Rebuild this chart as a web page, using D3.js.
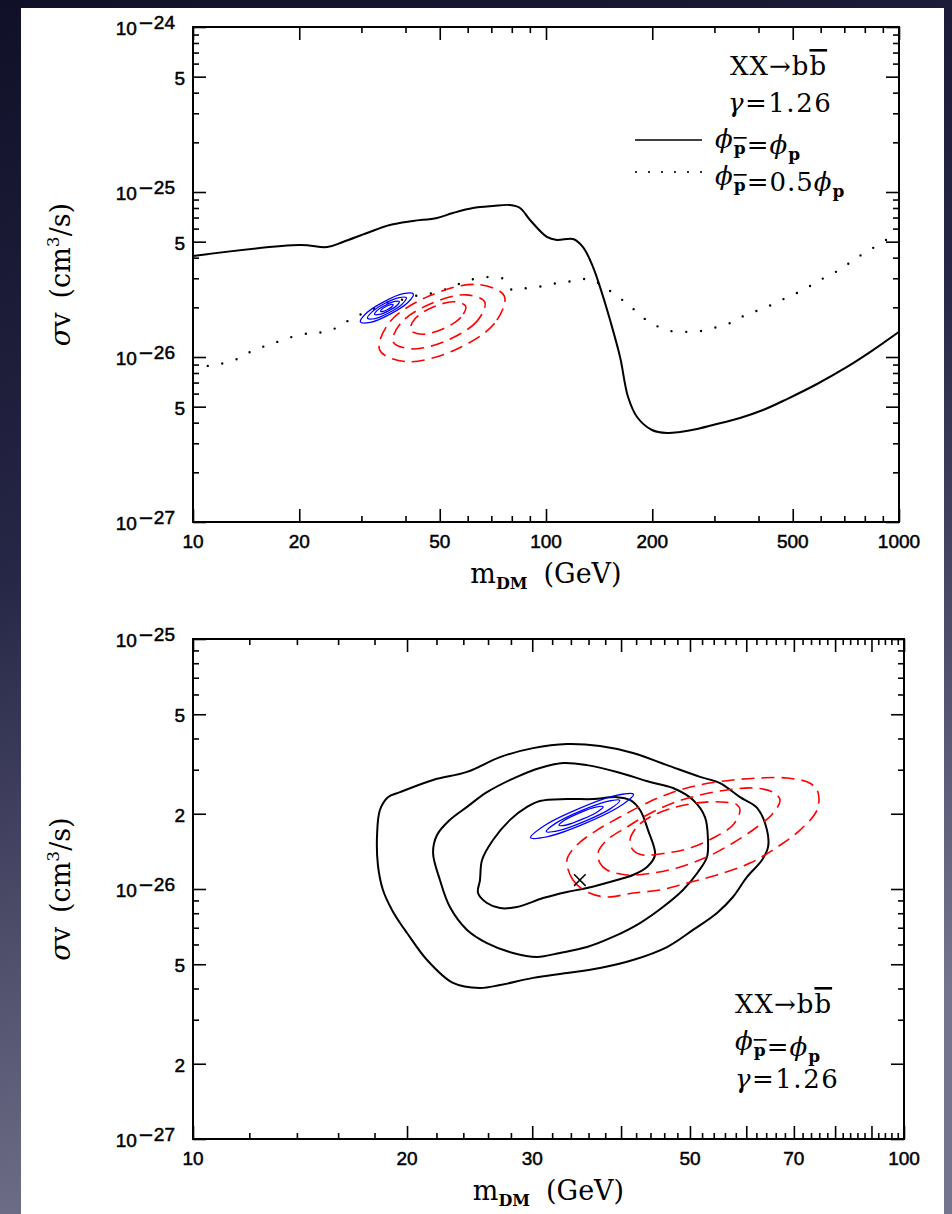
<!DOCTYPE html>
<html>
<head>
<meta charset="utf-8">
<script src="https://cdn.jsdelivr.net/npm/d3@7"></script>
<style>
  html, body { margin: 0; padding: 0; background: #161630; }
  svg { display: block; }
  .tick-lbl { font-family: "Liberation Sans", Arial, sans-serif; font-size: 19px; fill: #000; stroke: #000; stroke-width: 0.5px; }
  .serif { font-family: "DejaVu Serif", serif; fill: #000; }
</style>
</head>
<body>
<svg id="fig" width="952" height="1214"></svg>
<script>
// σv values in the arrays below are given in units of 1e-26 cm^3/s
const UNIT = 1e-26;

// ---------- upper panel: limits for XX→bb̄, γ = 1.26 ----------
const limitEqual = [ // φ_p̄ = φ_p
  [10,4.10],[20.1,4.77],[24.0,4.64],[26.6,4.98],[31.1,5.64],[36.1,6.31],[42.0,6.67],
  [49.1,6.96],[54.5,7.46],[62.1,8.00],[70.8,8.23],[79.1,8.34],[84.4,8.00],[90.1,6.77],
  [100.6,5.34],[107.4,5.12],[119.3,5.19],[127.3,4.64],[135.9,3.51],[142.2,2.66],
  [151.8,1.68],[162.1,1.00],[170.8,0.572],[181.1,0.433],[199.7,0.361],[220.2,0.346],
  [239.7,0.351],[267.8,0.366],[297.2,0.387],[354.5,0.427],[411.9,0.477],[481.6,0.556],
  [585.9,0.686],[712.4,0.870],[843.9,1.10],[1000,1.42]
];
const limitHalf = [ // φ_p̄ = 0.5 φ_p
  [10,0.870],[10.96,0.882],[11.93,0.907],[13.33,0.972],[14.5,1.072],[16.0,1.166],
  [17.64,1.25],[19.45,1.34],[21.73,1.40],[23.66,1.42],[26.09,1.54],[28.58,1.75],
  [31.31,1.87],[34.53,2.10],[38.3,2.20],[42.3,2.34],[46.6,2.41],[51.4,2.55],[56.7,2.77],
  [62.5,2.97],[68.9,3.05],[76.0,2.97],[80.1,2.55],[88.4,2.62],[98.1,2.69],[108.1,2.81],
  [120.1,2.89],[133.3,2.97],[145.0,2.69],[158.9,2.34],[173.0,2.04],[187.1,1.75],
  [203.7,1.56],[224.5,1.44],[249.3,1.42],[276.7,1.44],[305.1,1.52],[338.6,1.63],
  [371.1,1.82],[409.2,1.95],[451.1,2.15],[491.1,2.34],[541.6,2.58],[589.7,2.89],
  [646.0,3.18],[703.1,3.56],[765.5,4.04],[843.9,4.58],[918.9,5.12]
];
const upperBlue = [
  [[42.1,2.41],[40.6,2.14],[36.2,1.82],[31.8,1.62],[29.8,1.63],[30.9,1.835],[34.7,2.16],[39.4,2.42]],
  [[40.2,2.29],[39.2,2.10],[36.0,1.86],[32.8,1.71],[31.2,1.72],[32.1,1.87],[34.9,2.11],[38.4,2.29]],
  [[38.4,2.17],[37.8,2.05],[35.8,1.905],[33.7,1.81],[32.7,1.81],[33.2,1.91],[35.1,2.06],[37.3,2.17]],
  [[36.9,2.07],[36.6,2.015],[35.6,1.94],[34.6,1.89],[34.0,1.89],[34.3,1.95],[35.3,2.03],[36.3,2.08]]
];
const upperRed = [
  [[76.2,2.34],[71.5,1.60],[54.8,1.095],[40.2,0.938],[33.8,1.10],[36.0,1.62],[47.0,2.36],[64.0,2.75]],
  [[67.1,2.15],[63.8,1.65],[52.4,1.26],[41.8,1.12],[36.9,1.235],[38.8,1.61],[47.3,2.11],[59.3,2.38]],
  [[59.2,2.035],[57.4,1.74],[51.0,1.48],[44.5,1.375],[41.3,1.46],[42.6,1.71],[47.9,2.01],[54.9,2.16]]
];

// ---------- lower panel: preferred regions ----------
const lowerBlack = [
  [[19.55,2.44],[21.76,2.73],[24.29,2.94],[27.03,3.37],[30.08,3.66],[33.57,3.80],[37.36,3.73],
   [41.57,3.50],[46.42,3.13],[51.66,2.81],[55.1,2.65],[58.8,2.33],[62.13,2.11],[64.17,1.72],
   [64.38,1.47],[63.14,1.306],[60.15,1.117],[57.47,0.929],[54.58,0.802],[50.5,0.686],
   [46.42,0.586],[41.57,0.52],[37.36,0.483],[33.57,0.461],[30.08,0.441],[27.03,0.413],
   [25.33,0.402],[23.21,0.421],[21.34,0.52],[20.0,0.667],[19.55,0.731],[19.05,0.824],
   [18.5,0.991],[18.2,1.247],[18.15,1.644],[18.32,2.07],[18.8,2.33]],
  [[22.04,1.644],[22.98,1.89],[24.29,2.13],[25.91,2.44],[28.55,2.81],[30.76,3.05],[33.15,3.19],
   [35.82,3.13],[39.47,2.94],[43.93,2.68],[47.32,2.535],[50.5,2.27],[52.49,1.94],[53.0,1.57],
   [52.83,1.343],[51.32,1.17],[48.88,0.991],[45.81,0.847],[42.53,0.731],[38.96,0.643],
   [35.82,0.586],[32.83,0.555],[30.47,0.535],[28.18,0.555],[25.91,0.608],[24.29,0.686],
   [22.98,0.847],[22.25,1.086],[21.76,1.393]],
  [[25.17,0.964],[25.33,1.086],[25.5,1.306],[26.42,1.57],[27.92,1.89],[29.5,2.13],[30.76,2.25],
   [33.57,2.29],[36.52,2.29],[39.47,2.33],[41.17,2.27],[42.53,2.07],[43.65,1.72],[44.65,1.368],
   [43.51,1.225],[41.57,1.138],[39.47,1.086],[35.82,1.009],[33.57,0.973],[31.07,0.92],
   [28.55,0.847],[27.03,0.839],[25.91,0.879]]
];
const lowerBlue = [
  [[41.64,2.394],[39.94,2.152],[35.61,1.830],[31.55,1.621],[29.84,1.603],[31.11,1.783],[34.9,2.097],[39.38,2.368]],
  [[39.84,2.262],[38.66,2.097],[35.61,1.869],[32.67,1.712],[31.39,1.697],[32.35,1.830],[35.12,2.053],[38.28,2.241]],
  [[37.74,2.134],[37.08,2.038],[35.29,1.902],[33.51,1.803],[32.71,1.798],[33.29,1.883],[34.98,2.017],[36.83,2.126]]
];
const lowerRed = [
  [[33.57,1.306],[34.23,1.086],[35.82,0.973],[38.22,0.929],[41.57,0.964],[45.38,0.991],[49.52,1.057],
   [54.58,1.138],[60.75,1.27],[66.29,1.47],[71.41,1.72],[75.45,2.07],[75.68,2.44],[73.77,2.65],
   [68.46,2.78],[62.74,2.78],[57.47,2.73],[51.66,2.61],[47.32,2.44],[43.51,2.21],[39.86,1.94],
   [37.0,1.72],[34.68,1.50]],
  [[37.12,1.393],[37.36,1.27],[38.22,1.191],[40.77,1.138],[44.36,1.159],[48.42,1.225],[52.83,1.343],
   [57.47,1.528],[62.13,1.77],[65.44,2.01],[66.93,2.27],[65.44,2.44],[61.34,2.535],[56.37,2.49],
   [51.66,2.377],[47.32,2.21],[43.51,1.977],[40.77,1.77],[38.22,1.57]],
  [[41.17,1.57],[41.57,1.432],[42.93,1.368],[46.42,1.393],[50.0,1.459],[53.88,1.60],[57.47,1.803],
   [58.8,2.07],[58.23,2.17],[55.1,2.23],[51.17,2.21],[47.32,2.11],[43.93,1.94],[42.11,1.77]]
];
const bestFit = [35.0, 1.086];

// ---------- ticks ----------
const upperXLabeled = [10, 20, 50, 100, 200, 500, 1000];
const upperXMinor = [30, 40, 60, 70, 80, 90, 300, 400, 600, 700, 800, 900];
const upperYLabeled = [1e-24, 5e-25, 1e-25, 5e-26, 1e-26, 5e-27, 1e-27];
const upperYMinorMant = [2, 3, 4, 6, 7, 8, 9];
const lowerXMajor = [10, 20, 30, 40, 50, 60, 70, 80, 90, 100];
const lowerXLabeled = [10, 20, 30, 50, 70, 100];
const lowerXMinorStep = [2, 4, 6, 8];
const lowerYLabeled = [1e-25, 5e-26, 2e-26, 1e-26, 5e-27, 2e-27, 1e-27];
const lowerYMinorMant = [3, 4, 6, 7, 8, 9];

const svg = d3.select('#fig');
const W = 952, H = 1214;

// backdrop
const defs = svg.append('defs');
const bg = defs.append('linearGradient').attr('id', 'bg')
  .attr('x1', 0).attr('y1', 0).attr('x2', 0.25).attr('y2', 1);
bg.append('stop').attr('offset', 0).attr('stop-color', '#101028');
bg.append('stop').attr('offset', 0.45).attr('stop-color', '#262646');
bg.append('stop').attr('offset', 1).attr('stop-color', '#74748e');
svg.append('rect').attr('width', W).attr('height', H).attr('fill', 'url(#bg)');
svg.append('rect').attr('x', 21).attr('y', 8).attr('width', 923).attr('height', H).attr('fill', '#fff');

function decadeTicks(lo, hi, mants) {
  const out = [];
  for (let e = lo; e < hi; e++) mants.forEach(m => out.push(m * Math.pow(10, e)));
  return out;
}

function tickAxis(g, axisFn, scale, vals, len, tr) {
  g.append('g').attr('transform', tr)
    .call(axisFn(scale).tickValues(vals).tickSizeInner(-len).tickSizeOuter(0).tickFormat(''))
    .call(s => s.select('.domain').remove())
    .call(s => s.selectAll('line').attr('stroke', '#000').attr('stroke-width', 1.6));
}

function yTickLabel(g, y, v, axisX) {
  const e = Math.floor(Math.log10(v) + 1e-9);
  const mant = Math.round(v / Math.pow(10, e));
  if (mant === 1) {
    const t = g.append('text').attr('class', 'tick-lbl').attr('text-anchor', 'end')
      .attr('x', axisX - 18).attr('y', y(v) + 8);
    t.append('tspan').text('10');
    t.append('tspan').attr('dy', -6).attr('dx', 1).style('font-family', '"DejaVu Sans"').text('\u2212');
    t.append('tspan').text(String(-e));
  } else {
    g.append('text').attr('class', 'tick-lbl').attr('text-anchor', 'end')
      .attr('x', axisX - 8).attr('y', y(v) + 8).text(mant);
  }
}

function yTitle(g, cx, cy) {
  const t = g.append('text').attr('class', 'serif').attr('font-size', 27)
    .attr('text-anchor', 'middle')
    .attr('transform', `translate(${cx},${cy}) rotate(-90)`);
  t.append('tspan').attr('font-style', 'italic').text('\u03c3');
  t.append('tspan').text('v');
  t.append('tspan').attr('dx', 14).text('(cm');
  t.append('tspan').attr('dy', -11).attr('font-size', 17).text('3');
  t.append('tspan').attr('dy', 11).text('/s)');
}

function xTitle(g, cx, baseY) {
  const t = g.append('text').attr('class', 'serif').attr('font-size', 27)
    .attr('text-anchor', 'middle').attr('x', cx).attr('y', baseY);
  t.append('tspan').text('m');
  t.append('tspan').attr('dy', 6).attr('font-size', 16).attr('font-weight', 'bold').text('DM');
  t.append('tspan').attr('dy', -6).attr('dx', 16).text('(GeV)');
}

// subscript p (optionally barred) after a φ
function phiSub(t, bar) {
  t.append('tspan').attr('font-style', 'italic').text('\u03d5');
  const s = t.append('tspan').attr('dy', 6).attr('font-size', 17).attr('font-weight', 'bold').text('p');
  if (bar) s.attr('text-decoration', 'overline');
  t.append('tspan').attr('dy', -6).text('');
}

function bbText(g, x, y, size) {
  const t = g.append('text').attr('class', 'serif').attr('font-size', size)
    .attr('x', x).attr('y', y).attr('letter-spacing', 1);
  t.append('tspan').text('XX\u2192b');
  t.append('tspan').attr('text-decoration', 'overline').text('b');
}
function gammaText(g, x, y, size) {
  const t = g.append('text').attr('class', 'serif').attr('font-size', size)
    .attr('x', x).attr('y', y).attr('letter-spacing', 1.5);
  t.append('tspan').attr('font-style', 'italic').text('\u03b3');
  t.append('tspan').text('=1.26');
}
function phiText(g, x, y, size, coef) {
  const t = g.append('text').attr('class', 'serif').attr('font-size', size)
    .attr('x', x).attr('y', y).attr('letter-spacing', 1);
  phiSub(t, true);
  t.append('tspan').text('=' + coef);
  phiSub(t, false);
}

function panel(cfg) {
  const g = svg.append('g');
  const x = d3.scaleLog().domain(cfg.xDomain).range([cfg.left, cfg.right]);
  const y = d3.scaleLog().domain(cfg.yDomain).range([cfg.bottom, cfg.top]);
  const clipId = 'clip' + cfg.id;
  defs.append('clipPath').attr('id', clipId).append('rect')
    .attr('x', cfg.left).attr('y', cfg.top)
    .attr('width', cfg.right - cfg.left).attr('height', cfg.bottom - cfg.top);

  // ticks on all four sides, pointing inward
  tickAxis(g, d3.axisBottom, x, cfg.xMajor, 13, `translate(0,${cfg.bottom})`);
  tickAxis(g, d3.axisBottom, x, cfg.xMinor, 6, `translate(0,${cfg.bottom})`);
  tickAxis(g, d3.axisTop, x, cfg.xMajor, 13, `translate(0,${cfg.top})`);
  tickAxis(g, d3.axisTop, x, cfg.xMinor, 6, `translate(0,${cfg.top})`);
  tickAxis(g, d3.axisLeft, y, cfg.yMajor, 13, `translate(${cfg.left},0)`);
  tickAxis(g, d3.axisLeft, y, cfg.yMinor, 6, `translate(${cfg.left},0)`);
  tickAxis(g, d3.axisRight, y, cfg.yMajor, 13, `translate(${cfg.right},0)`);
  tickAxis(g, d3.axisRight, y, cfg.yMinor, 6, `translate(${cfg.right},0)`);

  g.append('rect').attr('x', cfg.left).attr('y', cfg.top)
    .attr('width', cfg.right - cfg.left).attr('height', cfg.bottom - cfg.top)
    .attr('fill', 'none').attr('stroke', '#000').attr('stroke-width', 2);

  cfg.xLabeled.forEach(v => {
    g.append('text').attr('class', 'tick-lbl').attr('text-anchor', 'middle')
      .attr('x', x(v)).attr('y', cfg.bottom + 26).text(v);
  });
  cfg.yMajor.forEach(v => yTickLabel(g, y, v, cfg.left));

  yTitle(g, 70, (cfg.top + cfg.bottom) / 2);
  xTitle(g, (cfg.left + cfg.right) / 2, cfg.bottom + 61);

  const plot = g.append('g').attr('clip-path', `url(#${clipId})`);
  return { g, plot, x, y };
}

// ---------- upper panel ----------
const up = panel({
  id: 'U', left: 193, right: 899, top: 27, bottom: 522,
  xDomain: [10, 1000], yDomain: [1e-27, 1e-24],
  xMajor: upperXLabeled, xMinor: upperXMinor, xLabeled: upperXLabeled,
  yMajor: upperYLabeled, yMinor: decadeTicks(-27, -24, upperYMinorMant)
});
{
  const { plot, x, y } = up;
  const open = d3.line().x(d => x(d[0])).y(d => y(d[1] * UNIT)).curve(d3.curveCatmullRom.alpha(0.5));
  const closed = d3.line().x(d => x(d[0])).y(d => y(d[1] * UNIT)).curve(d3.curveCatmullRomClosed.alpha(0.5));
  plot.append('path').attr('d', open(limitEqual)).attr('fill', 'none')
    .attr('stroke', '#000').attr('stroke-width', 2);
  plot.append('path').attr('d', open(limitHalf)).attr('fill', 'none')
    .attr('stroke', '#000').attr('stroke-width', 2.4).attr('stroke-linecap', 'round')
    .attr('stroke-dasharray', '0 14.8');
  upperRed.forEach(c => plot.append('path').attr('d', closed(c)).attr('fill', 'none')
    .attr('stroke', '#ff0000').attr('stroke-width', 1.6).attr('stroke-dasharray', '13 7'));
  upperBlue.forEach(c => plot.append('path').attr('d', closed(c)).attr('fill', 'none')
    .attr('stroke', '#0000ff').attr('stroke-width', 1.3));

  const g = up.g;
  bbText(g, 730, 75, 26);
  gammaText(g, 728, 112, 26);
  phiText(g, 715, 148, 26, '');
  phiText(g, 715, 185, 26, '0.5');
  g.append('line').attr('x1', 635).attr('x2', 702).attr('y1', 140).attr('y2', 140)
    .attr('stroke', '#000').attr('stroke-width', 1.6);
  g.append('line').attr('x1', 636).attr('x2', 702).attr('y1', 172).attr('y2', 172)
    .attr('stroke', '#000').attr('stroke-width', 2.2).attr('stroke-linecap', 'round')
    .attr('stroke-dasharray', '0 13');
}

// ---------- lower panel ----------
const lowerXMinor = [];
for (let d = 10; d < 100; d += 10) lowerXMinorStep.forEach(s => lowerXMinor.push(d + s));
const lo = panel({
  id: 'L', left: 193, right: 904, top: 639, bottom: 1139,
  xDomain: [10, 100], yDomain: [1e-27, 1e-25],
  xMajor: lowerXMajor, xMinor: lowerXMinor, xLabeled: lowerXLabeled,
  yMajor: lowerYLabeled, yMinor: decadeTicks(-27, -25, lowerYMinorMant)
});
{
  const { plot, x, y } = lo;
  const closed = d3.line().x(d => x(d[0])).y(d => y(d[1] * UNIT)).curve(d3.curveCatmullRomClosed.alpha(0.5));
  lowerBlack.forEach(c => plot.append('path').attr('d', closed(c)).attr('fill', 'none')
    .attr('stroke', '#000').attr('stroke-width', 2));
  lowerRed.forEach(c => plot.append('path').attr('d', closed(c)).attr('fill', 'none')
    .attr('stroke', '#ff0000').attr('stroke-width', 1.6).attr('stroke-dasharray', '13 7'));
  lowerBlue.forEach(c => plot.append('path').attr('d', closed(c)).attr('fill', 'none')
    .attr('stroke', '#0000ff').attr('stroke-width', 1.3));
  plot.append('path').attr('d', d3.symbol().type(d3.symbolX).size(90)())
    .attr('transform', `translate(${x(bestFit[0])},${y(bestFit[1] * UNIT)})`)
    .attr('fill', 'none').attr('stroke', '#000').attr('stroke-width', 1.5);

  const g = lo.g;
  bbText(g, 735, 1013, 26);
  phiText(g, 735, 1050, 26, '');
  gammaText(g, 735, 1088, 26);
}
</script>
</body>
</html>
